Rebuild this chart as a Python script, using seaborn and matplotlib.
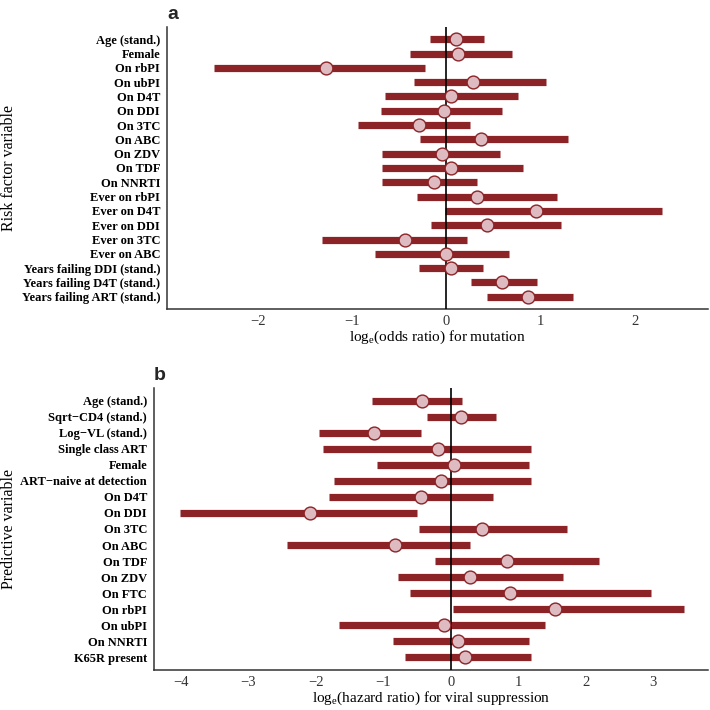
import numpy as np
import pandas as pd
import seaborn as sns
import matplotlib
matplotlib.use("Agg")
import matplotlib.pyplot as plt

# panel a: risk factors for mutation (log odds ratio)
risk_labels = ["Age (stand.)", "Female", "On rbPI", "On ubPI", "On D4T", "On DDI",
               "On 3TC", "On ABC", "On ZDV", "On TDF", "On NNRTI", "Ever on rbPI",
               "Ever on D4T", "Ever on DDI", "Ever on 3TC", "Ever on ABC",
               "Years failing DDI (stand.)", "Years failing D4T (stand.)",
               "Years failing ART (stand.)"]
risk_est = [0.10, 0.125, -1.28, 0.28, 0.045, -0.03, -0.29, 0.37, -0.045, 0.05,
            -0.13, 0.33, 0.95, 0.43, -0.445, 0.0, 0.05, 0.59, 0.87]
risk_lo = [-0.17, -0.385, -2.47, -0.34, -0.65, -0.70, -0.94, -0.28, -0.69, -0.69,
           -0.68, -0.31, -0.02, -0.16, -1.32, -0.76, -0.29, 0.26, 0.43]
risk_hi = [0.40, 0.70, -0.225, 1.06, 0.76, 0.59, 0.25, 1.29, 0.57, 0.81,
           0.33, 1.18, 2.29, 1.22, 0.22, 0.66, 0.39, 0.96, 1.34]

# panel b: predictors of viral suppression (log hazard ratio)
pred_labels = ["Age (stand.)", "Sqrt\u2212CD4 (stand.)", "Log\u2212VL (stand.)",
               "Single class ART", "Female", "ART\u2212naive at detection", "On D4T",
               "On DDI", "On 3TC", "On ABC", "On TDF", "On ZDV", "On FTC", "On rbPI",
               "On ubPI", "On NNRTI", "K65R present"]
pred_est = [-0.425, 0.15, -1.135, -0.19, 0.05, -0.14, -0.44, -2.09, 0.455, -0.83,
            0.83, 0.28, 0.87, 1.54, -0.10, 0.10, 0.21]
pred_lo = [-1.175, -0.35, -1.95, -1.89, -1.09, -1.73, -1.81, -4.02, -0.47, -2.43,
           -0.23, -0.79, -0.60, 0.035, -1.66, -0.86, -0.68]
pred_hi = [0.16, 0.67, -0.44, 1.18, 1.15, 1.18, 0.62, -0.50, 1.72, 0.29,
           2.20, 1.66, 2.97, 3.45, 1.40, 1.16, 1.18]

bar_col = "#8B2327"
dot_col = "#DDBBC0"
ink = "#333333"

sns.set_style("white")
plt.rcParams["font.family"] = ["Liberation Serif", "DejaVu Serif"]
plt.rcParams["mathtext.fontset"] = "custom"
plt.rcParams["mathtext.rm"] = "Liberation Serif"


def forest(ax, labels, est, lo, hi, xlim, pad, xlabel, ylabel, title, ylab_x):
    df = pd.DataFrame({"label": labels, "est": est, "lo": lo, "hi": hi})
    df["pos"] = np.arange(len(df))
    ax.hlines(df["pos"], df["lo"], df["hi"], color=bar_col, linewidth=5.2, zorder=2)
    ax.axvline(0, color="black", linewidth=1.2, zorder=3)
    sns.scatterplot(data=df, x="est", y="pos", ax=ax, s=85, color=dot_col,
                    edgecolor=bar_col, linewidth=1.0, zorder=4, legend=False)
    ax.set_yticks(df["pos"], df["label"], fontweight="bold", fontsize=9.0, color="black")
    ax.set_ylim(len(df) - 1 + pad, -pad)
    ax.set_xlim(*xlim)
    ax.tick_params(axis="x", labelsize=10.5, colors=ink, length=3, width=0.8, pad=1.5)
    ax.tick_params(axis="y", length=3, width=1.2, color=ink, pad=2)
    for lab in ax.get_xticklabels():
        lab.set_color(ink)
    ax.set_xlabel(xlabel, fontsize=11, color="black", labelpad=0)
    ax.set_ylabel(ylabel, fontsize=11.5, color="black")
    ax.yaxis.set_label_coords(ylab_x, 0.5)
    ax.set_title(title, loc="left", fontsize=14, fontweight="bold",
                 family="Liberation Sans", pad=6)
    for side in ["top", "right"]:
        ax.spines[side].set_visible(False)
    for side in ["left", "bottom"]:
        ax.spines[side].set_color(ink)
        ax.spines[side].set_linewidth(1.1)


fig = plt.figure(figsize=(7.1, 7.1), dpi=100)
ax_a = fig.add_axes([167 / 710, 1 - 309 / 710, (708 - 167) / 710, (309 - 27) / 710])
ax_b = fig.add_axes([154 / 710, 1 - 670 / 710, (708 - 154) / 710, (670 - 388) / 710])

forest(ax_a, risk_labels, risk_est, risk_lo, risk_hi, (-2.97, 2.78), 0.86,
       r"log$_{\mathrm{e}}$(odds ratio) for mutation", "Risk factor variable", "a",
       (17 - 167) / 541)
forest(ax_b, pred_labels, pred_est, pred_lo, pred_hi, (-4.40, 3.81), 0.79,
       r"log$_{\mathrm{e}}$(hazard ratio) for viral suppression", "Predictive variable", "b",
       (17 - 154) / 554)
ax_a.set_xticks([-2, -1, 0, 1, 2])
ax_b.set_xticks([-4, -3, -2, -1, 0, 1, 2, 3])

fig.savefig("out.png", dpi=100)
